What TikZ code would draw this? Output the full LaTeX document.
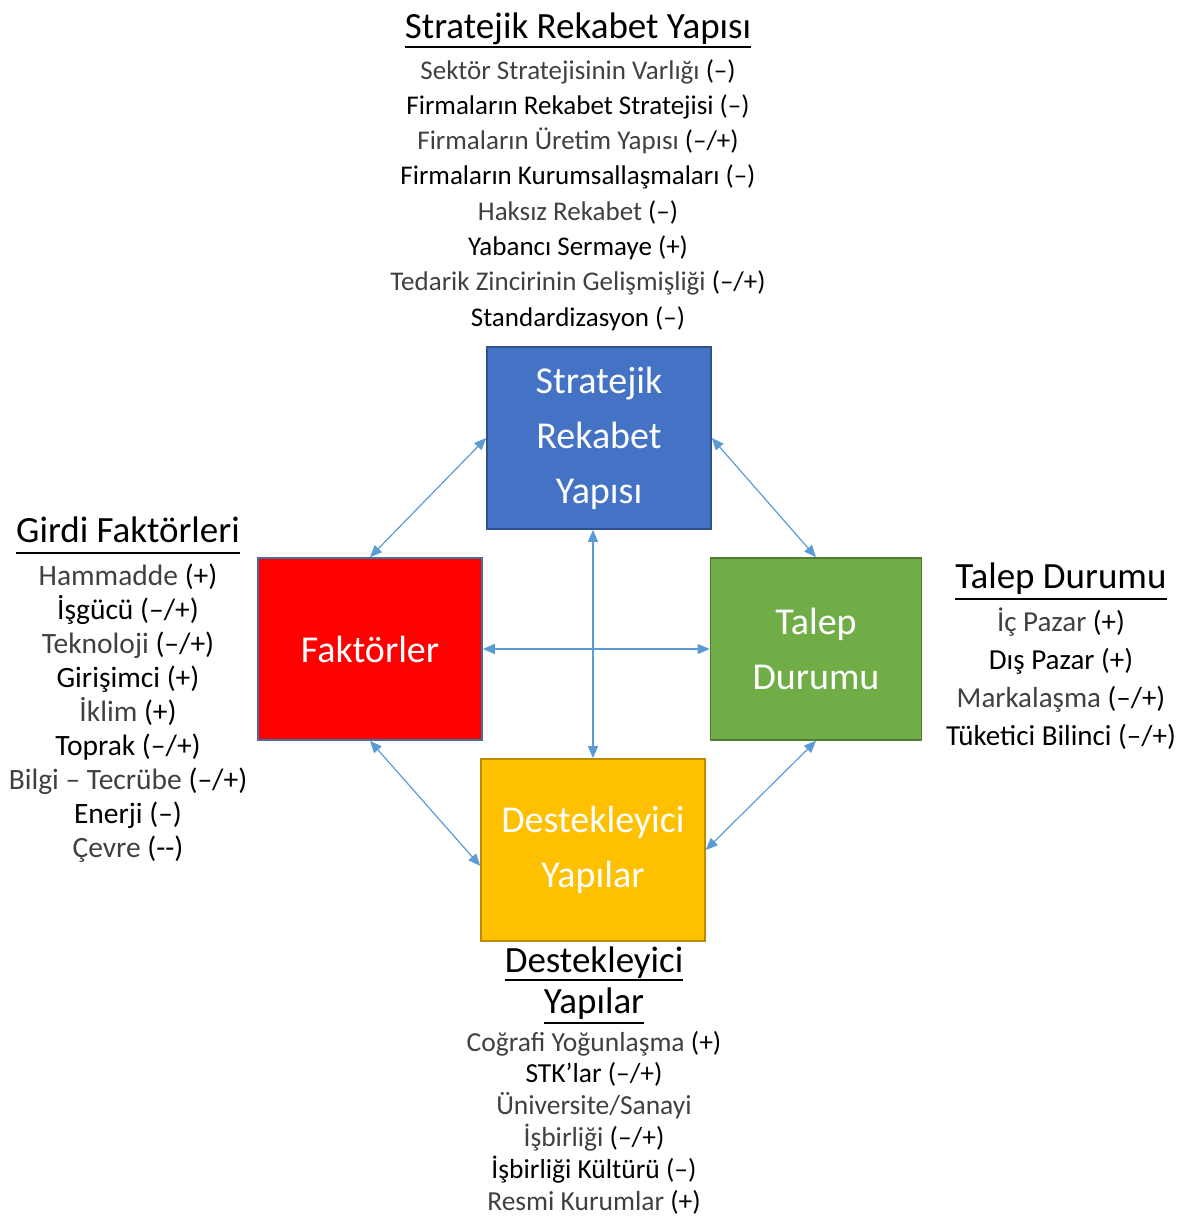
\documentclass[tikz,border=0pt]{standalone}
\usepackage{fontspec}
\setmainfont{Carlito}
\usetikzlibrary{arrows.meta,calc}

\definecolor{boxblue}{HTML}{4472C4}
\definecolor{boxblueline}{HTML}{2F528F}
\definecolor{boxred}{HTML}{FF0000}
\definecolor{boxredline}{HTML}{41719C}
\definecolor{boxgreen}{HTML}{70AD47}
\definecolor{boxgreenline}{HTML}{507E32}
\definecolor{boxgold}{HTML}{FFC000}
\definecolor{boxgoldline}{HTML}{BC8C00}
\definecolor{linkblue}{HTML}{5B9BD5}
\definecolor{softtext}{HTML}{404040}

\newcommand\lgt[1]{{\color{softtext}#1}}

\tikzset{
  force/.style={draw, line width=1.6pt, minimum width=224, minimum height=182,
    text=white, align=center, inner sep=0pt,
    font=\fontsize{38}{55}\selectfont},
  link/.style={draw=linkblue, line width=1.2pt,
    {Triangle[length=12pt,width=10pt]}-{Triangle[length=12pt,width=10pt]}},
  heading/.style={anchor=base, inner sep=0pt, font=\fontsize{37}{40}\selectfont},
  uline/.style={line width=2.2pt},
  entry/.style={anchor=base, inner sep=0pt},
}

\begin{document}
\begin{tikzpicture}[x=1pt,y=-1pt]
\useasboundingbox (0,0) rectangle (1185,1219);

% the four forces
\node[force, fill=boxblue, draw=boxblueline] (str) at (599,438) {Stratejik\\Rekabet\\Yapısı};
\node[force, fill=boxred, draw=boxredline] (fak) at (370,649) {Faktörler};
\node[force, fill=boxgreen, draw=boxgreenline, minimum width=211] (tal) at (816,649) {Talep\\Durumu};
\node[force, fill=boxgold, draw=boxgoldline] (des) at (593,850) {Destekleyici\\Yapılar};

% interactions
\draw[link] (str.west) -- (fak.north);
\draw[link] (str.east) -- (tal.north);
\draw[link] (fak.south) -- (des.188);
\draw[link] (tal.south) -- (des.east);
\draw[link] (fak.east) -- (tal.west);
\draw[link] (des.north |- str.south) -- (des.north);

% strategy and rivalry
\node[heading] (h1) at (578,38) {Stratejik Rekabet Yapısı};
\draw[uline] ($(h1.base west)+(0,9)$) -- ($(h1.base east)+(0,9)$);
\foreach \t [count=\i] in {
  {\lgt{Sektör Stratejisinin Varlığı} (–)},
  {Firmaların Rekabet Stratejisi (–)},
  {\lgt{Firmaların Üretim Yapısı} (–/+)},
  {Firmaların Kurumsallaşmaları (–)},
  {\lgt{Haksız Rekabet} (–)},
  {Yabancı Sermaye (+)},
  {\lgt{Tedarik Zincirinin Gelişmişliği} (–/+)},
  {Standardizasyon (–)}}
  \node[entry, font=\fontsize{27}{30}\selectfont] (s\i) at (578,{79+35.3*(\i-1)}) {\t};

% factor conditions
\node[heading] (h2) at (128,542) {Girdi Faktörleri};
\draw[uline] ($(h2.base west)+(0,11)$) -- ($(h2.base east)+(0,11)$);
\foreach \t [count=\i] in {
  {\lgt{Hammadde} (+)},
  {İşgücü (–/+)},
  {\lgt{Teknoloji} (–/+)},
  {Girişimci (+)},
  {\lgt{İklim} (+)},
  {Toprak (–/+)},
  {\lgt{Bilgi – Tecrübe} (–/+)},
  {Enerji (–)},
  {\lgt{Çevre} (-{}-)}}
  \node[entry, font=\fontsize{29.5}{32}\selectfont] (f\i) at (128,{585+34*(\i-1)}) {\t};

% demand conditions
\node[heading] (h3) at (1061,588) {Talep Durumu};
\draw[uline] ($(h3.base west)+(0,11)$) -- ($(h3.base east)+(0,11)$);
\foreach \t [count=\i] in {
  {\lgt{İç Pazar} (+)},
  {Dış Pazar (+)},
  {\lgt{Markalaşma} (–/+)},
  {Tüketici Bilinci (–/+)}}
  \node[entry, font=\fontsize{29}{32}\selectfont] (d\i) at (1061,{631+38.3*(\i-1)}) {\t};

% related and supporting industries
\node[heading] (h4) at (594,972) {Destekleyici};
\draw[uline] ($(h4.base west)+(0,8)$) -- ($(h4.base east)+(0,8)$);
\node[heading] (h5) at (594,1013) {Yapılar};
\draw[uline] ($(h5.base west)+(0,10)$) -- ($(h5.base east)+(0,10)$);
\foreach \t [count=\i] in {
  {\lgt{Coğrafi Yoğunlaşma} (+)},
  {STK’lar (–/+)},
  {\lgt{Üniversite/Sanayi}},
  {\lgt{İşbirliği} (–/+)},
  {İşbirliği Kültürü (–)},
  {\lgt{Resmi Kurumlar} (+)}}
  \node[entry, font=\fontsize{27.5}{30}\selectfont] (b\i) at (594,{1051+31.8*(\i-1)}) {\t};
\end{tikzpicture}
\end{document}
